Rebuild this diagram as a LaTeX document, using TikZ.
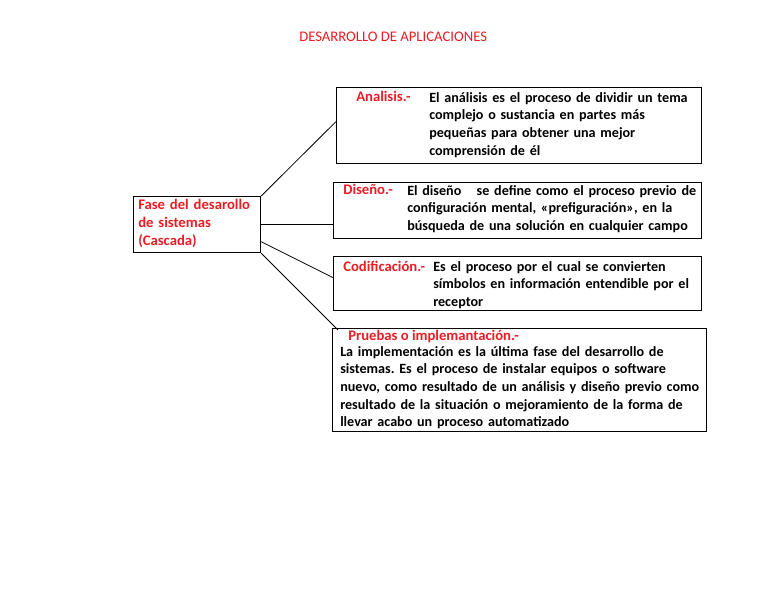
\documentclass[tikz,border=0pt]{standalone}
\usepackage{fontspec}
\setmainfont{Carlito}
\usetikzlibrary{calc}
\definecolor{rojo}{RGB}{237,28,36}
\frenchspacing
\begin{document}
\begin{tikzpicture}[x=0.75pt, y=-0.75pt,
   caja/.style={draw, line width=0.9pt, inner sep=0pt, anchor=north west},
   rotulo/.style={anchor=base west, inner sep=0pt, text=rojo,
                  font=\fontsize{11}{13.5}\selectfont\bfseries},
   texto/.style={anchor=base west, inner sep=0pt, text width=285pt, align=left,
                 font=\fontsize{10.6}{13.3}\selectfont\bfseries},
   enlace/.style={line width=0.6pt}]

\useasboundingbox (0,0) rectangle (768,614);

\node[anchor=base west, inner sep=0pt, text=rojo, font=\fontsize{11}{13}\selectfont]
   (titulo) at (299,41) {DESARROLLO DE APLICACIONES};

\node[caja, minimum width=95.25pt, minimum height=42pt] (fase) at (133,196) {};
\node[rotulo, text width=92pt, align=left] (fasetxt) at (138,209)
   {Fase del desarollo\\ de sistemas\\ (Cascada)};

\node[caja, minimum width=273.75pt, minimum height=57pt] (analisis) at (336,87) {};
\node[rotulo] (analisislbl) at (356,101) {Analisis.-};
\node[texto] (analisistxt) at (429,102)
   {El análisis es el proceso de dividir un tema\\ complejo o sustancia en partes más\\
    pequeñas para obtener una mejor\\ comprensión de él};

\node[caja, minimum width=276pt, minimum height=42pt] (diseno) at (333,182) {};
\node[rotulo] (disenolbl) at (343,194) {Diseño.-};
\node[texto] (disenotxt) at (407,195)
   {El diseño\hspace{8pt} se define como el proceso previo de\\
    configuración mental, «prefiguración», en la\\
    búsqueda de una solución en cualquier campo};

\node[caja, minimum width=276pt, minimum height=40.5pt] (codif) at (333,256) {};
\node[rotulo] (codiflbl) at (343,271) {Codificación.-};
\node[texto] (codiftxt) at (433,271)
   {Es el proceso por el cual se convierten\\ símbolos en información entendible por el\\ receptor};

\node[caja, minimum width=280.5pt, minimum height=77.25pt] (pruebas) at (332,328) {};
\node[rotulo] (pruebaslbl) at (348,340) {Pruebas o implemantación.-};
\node[texto] (pruebastxt) at (340,356)
   {La implementación es la última fase del desarrollo de\\
    sistemas. Es el proceso de instalar equipos o software\\
    nuevo, como resultado de un análisis y diseño previo como\\
    resultado de la situación o mejoramiento de la forma de\\
    llevar acabo un proceso automatizado};

\draw[enlace] (fase.north east) -- ($(analisis.west)+(0,-4)$);
\draw[enlace] (fase.east) -- (fase.east -| diseno.west);
\draw[enlace] ($(fase.east)!0.6!(fase.south east)$) -- ($(codif.west)+(0,-6)$);
\draw[enlace] (fase.south east) -- ($(pruebas.north west)+(6,2)$);

\end{tikzpicture}
\end{document}
